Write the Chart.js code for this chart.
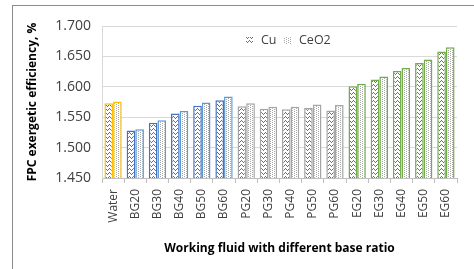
<!DOCTYPE html>
<html>
<head>
<meta charset="utf-8">
<script src="https://cdn.jsdelivr.net/npm/chart.js@4.4.1/dist/chart.umd.min.js"></script>
<style>
  html, body { margin: 0; padding: 0; background: #fff; }
  #wrap { position: relative; width: 474px; height: 269px; overflow: hidden; }
  #frame { position: absolute; left: 12px; top: 5px; width: 520px; height: 320px;
           border: 1px solid #8c8c8c; box-sizing: border-box; }
  #chart { position: absolute; left: 0; top: 0; }
</style>
</head>
<body>
<div id="wrap">
  <div id="frame"></div>
  <canvas id="chart" width="474" height="269"></canvas>
</div>
<script>
// Data
const categories = ['Water', 'BG20', 'BG30', 'BG40', 'BG50', 'BG60',
                    'PG20', 'PG30', 'PG40', 'PG50', 'PG60',
                    'EG20', 'EG30', 'EG40', 'EG50', 'EG60'];
const cuValues   = [1.573, 1.528, 1.541, 1.556, 1.569, 1.578,
                    1.568, 1.564, 1.563, 1.565, 1.561,
                    1.601, 1.612, 1.626, 1.639, 1.658];
const ceo2Values = [1.576, 1.530, 1.545, 1.560, 1.574, 1.584,
                    1.573, 1.567, 1.567, 1.571, 1.570,
                    1.605, 1.617, 1.631, 1.645, 1.665];
const yTicks = [1.450, 1.500, 1.550, 1.600, 1.650, 1.700];

// Border colours by fluid group
const groupBorders = {
    Water: ['#FFC000', '#FFC000'],
    BG: ['#4472C4', '#5B9BD5'],
    PG: ['#A5A5A5', '#A5A5A5'],
    EG: ['#70AD47', '#70AD47']
};

function groupOf(label) {
    return label === 'Water' ? 'Water' : label.slice(0, 2);
}

/**
 * Build a small repeating fill pattern from a pixel list
 */
function makePattern(size, pixels, color) {
    const c = document.createElement('canvas');
    c.width = size[0];
    c.height = size[1];
    const g = c.getContext('2d');
    g.fillStyle = '#ffffff';
    g.fillRect(0, 0, c.width, c.height);
    g.fillStyle = color;
    pixels.forEach(p => g.fillRect(p[0], p[1], 1, 1));
    return g.createPattern(c, 'repeat');
}

// Cu: fine wavy lines, CeO2: light dotted grid
const cuPattern = makePattern([4, 4], [[0, 1], [1, 0], [2, 1], [3, 2]], '#6e6e6e');
const ceo2Pattern = makePattern([4, 4], [[0, 0], [2, 1], [0, 2], [2, 3]], '#a6a6a6');

const font = "'Open Sans', 'Liberation Sans', sans-serif";

// Legend drawn inside the plot area, as in the original
const insideLegend = {
    id: 'insideLegend',
    afterDraw(chart) {
        const ctx = chart.ctx;
        const items = [
            { text: 'Cu', fill: cuPattern, x: 246 },
            { text: 'CeO2', fill: ceo2Pattern, x: 284 }
        ];
        ctx.save();
        ctx.font = '12.5px ' + font;
        ctx.textBaseline = 'middle';
        items.forEach(it => {
            ctx.fillStyle = it.fill;
            ctx.fillRect(it.x, 37, 7, 7);
            ctx.fillStyle = '#404040';
            ctx.fillText(it.text, it.x + 15, 40.5);
        });
        ctx.restore();
    }
};

new Chart(document.getElementById('chart'), {
    type: 'bar',
    data: {
        labels: categories,
        datasets: [
            {
                label: 'Cu',
                data: cuValues,
                backgroundColor: cuPattern,
                borderColor: categories.map(c => groupBorders[groupOf(c)][0]),
                borderWidth: 1.5
            },
            {
                label: 'CeO2',
                data: ceo2Values,
                backgroundColor: ceo2Pattern,
                borderColor: categories.map(c => groupBorders[groupOf(c)][1]),
                borderWidth: 1.5
            }
        ]
    },
    options: {
        responsive: false,
        animation: false,
        datasets: {
            bar: { categoryPercentage: 0.78, barPercentage: 1.0 }
        },
        layout: { padding: { left: 22, right: 17, top: 26, bottom: 13 } },
        plugins: {
            legend: { display: false },
            tooltip: { enabled: false }
        },
        scales: {
            x: {
                grid: { drawOnChartArea: false, color: '#bfbfbf', tickLength: 5 },
                border: { color: '#bfbfbf' },
                ticks: {
                    color: '#404040',
                    font: { family: font, size: 12 },
                    maxRotation: 90,
                    minRotation: 90,
                    padding: 6
                },
                title: {
                    display: true,
                    text: 'Working fluid with different base ratio',
                    color: '#000',
                    font: { family: font, size: 12, weight: 'bold' },
                    padding: { top: 6, bottom: 0 }
                },
                afterFit(scale) { scale.height = 78; }
            },
            y: {
                min: 1.45,
                max: 1.7,
                afterBuildTicks(scale) {
                    scale.ticks = yTicks.map(v => ({ value: v }));
                },
                grid: { color: '#d9d9d9', drawTicks: false },
                border: { color: '#d9d9d9' },
                ticks: {
                    color: '#404040',
                    font: { family: font, size: 14 },
                    padding: 11,
                    callback: v => v.toFixed(3)
                },
                title: {
                    display: true,
                    text: 'FPC exergetic efficiency, %',
                    color: '#000',
                    font: { family: font, size: 12, weight: 'bold' },
                    padding: { top: 3, bottom: 3 }
                },
                afterFit(scale) { scale.width = 80; }
            }
        }
    },
    plugins: [insideLegend]
});
</script>
</body>
</html>
